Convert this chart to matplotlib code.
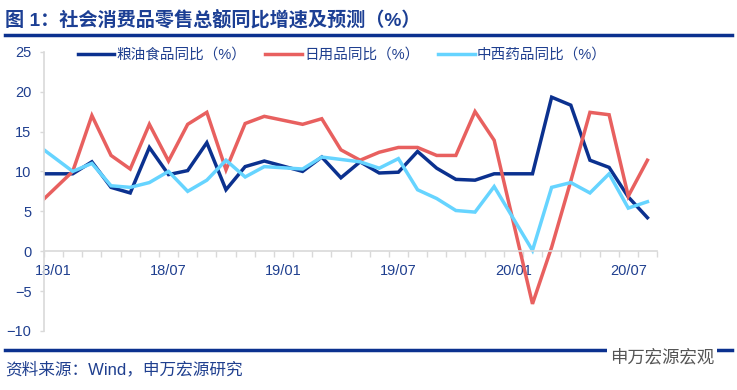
import matplotlib.pyplot as plt
import numpy as np
from matplotlib.lines import Line2D

plt.rcParams["font.family"] = ["Liberation Sans", "Noto Sans CJK SC", "DejaVu Sans"]

# monthly yoy growth (%), Wind has no January print (Jan-Feb combined)
months = (
    ["17/12"]
    + [f"18/{m:02d}" for m in range(1, 13)]
    + [f"19/{m:02d}" for m in range(1, 13)]
    + [f"20/{m:02d}" for m in range(1, 9)]
)
nan = np.nan
grain_oil_food = [
    9.7,
    nan, 9.7, 11.2, 8.0, 7.3, 13.0, 9.6, 10.1, 13.6, 7.7, 10.6, 11.3,
    nan, 10.0, 11.8, 9.2, 11.2, 9.8, 9.9, 12.5, 10.4, 9.0, 8.9, 9.7,
    nan, 9.7, 19.3, 18.3, 11.4, 10.5, 6.8, 4.2,
]
daily_goods = [
    5.4,
    nan, 10.0, 17.0, 12.0, 10.3, 15.9, 11.3, 15.9, 17.4, 10.2, 16.0, 16.9,
    nan, 15.9, 16.6, 12.7, 11.4, 12.4, 13.0, 13.0, 12.0, 12.0, 17.5, 13.9,
    nan, -6.6, 0.5, 8.8, 17.4, 17.1, 6.9, 11.4,
]
medicine = [
    13.6,
    nan, 10.0, 11.0, 8.2, 8.0, 8.6, 10.0, 7.5, 8.9, 11.4, 9.3, 10.6,
    nan, 10.3, 11.8, 11.5, 11.2, 10.4, 11.6, 7.7, 6.6, 5.1, 4.9, 8.1,
    nan, 0.1, 8.0, 8.6, 7.3, 9.7, 5.4, 6.2,
]
series_names = ["粮油食品同比（%）", "日用品同比（%）", "中西药品同比（%）"]
tick_months = ["18/01", "18/07", "19/01", "19/07", "20/01", "20/07"]

NAVY = "#0b318f"
TEXT = "#1f3f8f"
COLORS = ["#0b318f", "#e8605f", "#66d4ff"]

W, H = 737, 390
fig = plt.figure(figsize=(W / 100, H / 100), dpi=100)
ax = fig.add_axes([44 / W, 1 - 331 / H, (657 - 44) / W, (331 - 51.7) / H])

# category centres, 18/01 sits between ticks 0 and 1
x = np.arange(len(months)) - 0.5

for values, name, color in zip(
    [grain_oil_food, daily_goods, medicine], series_names, COLORS
):
    y = np.asarray(values, dtype=float)
    keep = ~np.isnan(y)
    ax.plot(x[keep], y[keep], color=color, lw=2.5, label=name,
            solid_joinstyle="miter")

ax.set_xlim(0, 32)
ax.set_ylim(-10, 25)
ax.set_yticks(np.arange(-10, 26, 5))

label_pos = [months.index(m) - 0.5 for m in tick_months]
ax.set_xticks(label_pos, tick_months)
ax.set_xticks(np.arange(0, 33), minor=True)
ax.tick_params(axis="x", which="major", length=0, pad=9,
               labelsize=10.5, labelcolor=TEXT)
ax.tick_params(axis="x", which="minor", length=4, width=1,
               color="#d9d9d9", direction="out")
ax.tick_params(axis="y", length=3, width=1, color="#d9d9d9",
               pad=6, labelsize=10.5, labelcolor=TEXT)

for side in ["top", "right"]:
    ax.spines[side].set_visible(False)
ax.spines["left"].set_color("#d9d9d9")
ax.spines["bottom"].set_color("#d9d9d9")
ax.spines["bottom"].set_position(("data", 0))
ax.spines["left"].set_linewidth(1.2)
ax.spines["bottom"].set_linewidth(1.2)

ax.legend(
    loc="center left",
    bbox_to_anchor=(78 / W, 1 - 55 / H),
    bbox_transform=fig.transFigure,
    ncol=3,
    frameon=False,
    fontsize=10.5,
    borderpad=0,
    borderaxespad=0,
    handlelength=2.5,
    handletextpad=0.15,
    columnspacing=1.3,
    labelcolor=TEXT,
)

fig.text(5 / W, 1 - 20 / H, "图 1：社会消费品零售总额同比增速及预测（%）",
         fontsize=13.8, fontweight="bold", color="#1c3f94", va="center")
fig.add_artist(Line2D([5 / W, 732 / W], [1 - 35 / H] * 2, lw=2.5, color=NAVY))
fig.add_artist(Line2D([5 / W, 732 / W], [1 - 350 / H] * 2, lw=2.5, color=NAVY))
fig.text(5 / W, 1 - 369 / H, "资料来源：Wind，申万宏源研究",
         fontsize=12, color=TEXT, va="center")
fig.text(610 / W, 1 - 357 / H, "申万宏源宏观", fontsize=12.5, color="#555555",
         va="center", bbox=dict(facecolor="white", edgecolor="none", pad=2))

fig.savefig("out.png", dpi=100)
